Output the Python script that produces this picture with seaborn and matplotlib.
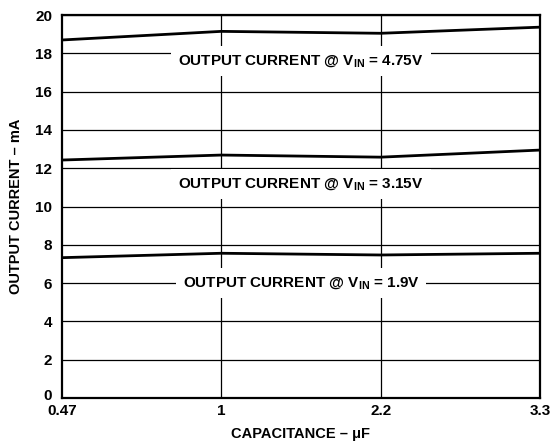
import matplotlib
matplotlib.use("Agg")
import matplotlib.pyplot as plt
import matplotlib.transforms as mtransforms
import seaborn as sns
import pandas as pd

# ---- data ----
capacitance = ["0.47", "1", "2.2", "3.3"]
current_475 = [18.7, 19.15, 19.05, 19.37]
current_315 = [12.43, 12.69, 12.58, 12.95]
current_19 = [7.33, 7.56, 7.47, 7.56]
labels = [r"OUTPUT CURRENT @ V$_{\rm IN}$ = 4.75V",
          r"OUTPUT CURRENT @ V$_{\rm IN}$ = 3.15V",
          r"OUTPUT CURRENT @ V$_{\rm IN}$ = 1.9V"]
label_y = [17.6, 11.17, 6.0]
y_ticks = [0, 2, 4, 6, 8, 10, 12, 14, 16, 18, 20]

sns.set_theme(style="white")
plt.rcParams["font.family"] = ["Liberation Sans", "DejaVu Sans"]
plt.rcParams["font.weight"] = "bold"
plt.rcParams["text.color"] = "black"
plt.rcParams["axes.labelcolor"] = "black"
plt.rcParams["xtick.color"] = "black"
plt.rcParams["ytick.color"] = "black"
plt.rcParams["mathtext.fontset"] = "custom"
plt.rcParams["mathtext.rm"] = "Liberation Sans:bold"
plt.rcParams["mathtext.it"] = "Liberation Sans:bold"
plt.rcParams["mathtext.bf"] = "Liberation Sans:bold"

df = pd.DataFrame({
    "cap": capacitance * 3,
    "current": current_475 + current_315 + current_19,
    "series": ["4.75"] * 4 + ["3.15"] * 4 + ["1.9"] * 4,
})

fig = plt.figure(figsize=(5.53, 4.44), dpi=100)
ax = fig.add_axes([0.112, 0.1036, 0.8645, 0.8624])

# grid
for yv in y_ticks:
    ax.axhline(yv, color="black", lw=0.9, zorder=1)
for i in range(1, len(capacitance) - 1):
    ax.axvline(i, color="black", lw=0.9, zorder=1)

sns.lineplot(data=df, x="cap", y="current", units="series", estimator=None,
             color="black", lw=2.0, ax=ax, zorder=3, sort=False)

for lab, yv in zip(labels, label_y):
    ax.text(1.5, yv, lab, ha="center", va="center", fontsize=11, fontweight="bold",
            color="black", zorder=2,
            bbox=dict(boxstyle="square,pad=0.45", fc="white", ec="none"))

ax.set_xlim(0, len(capacitance) - 1)
ax.set_ylim(0, 20)
ax.set_yticks(y_ticks)
ax.set_xticks(range(len(capacitance)))
ax.set_xticklabels(capacitance)
ax.tick_params(axis="both", length=0, labelsize=11, colors="black")
ax.tick_params(axis="x", pad=4)
ax.tick_params(axis="y", pad=7)
for t in ax.get_xticklabels() + ax.get_yticklabels():
    t.set_fontweight("bold")
    t.set_color("black")
# lift the "0" label slightly, as in the reference
zero = ax.get_yticklabels()[0]
zero.set_transform(zero.get_transform() + mtransforms.ScaledTranslation(0, 4 / 100, fig.dpi_scale_trans))

ax.set_xlabel("CAPACITANCE – μF", fontsize=10.5, fontweight="bold", color="black", labelpad=7)
ax.set_ylabel("OUTPUT CURRENT – mA", fontsize=10.5, fontweight="bold", color="black", labelpad=9)

for s in ax.spines.values():
    s.set_visible(True)
    s.set_color("black")
    s.set_linewidth(1.6)

fig.savefig("out.png", dpi=100, facecolor="white")
